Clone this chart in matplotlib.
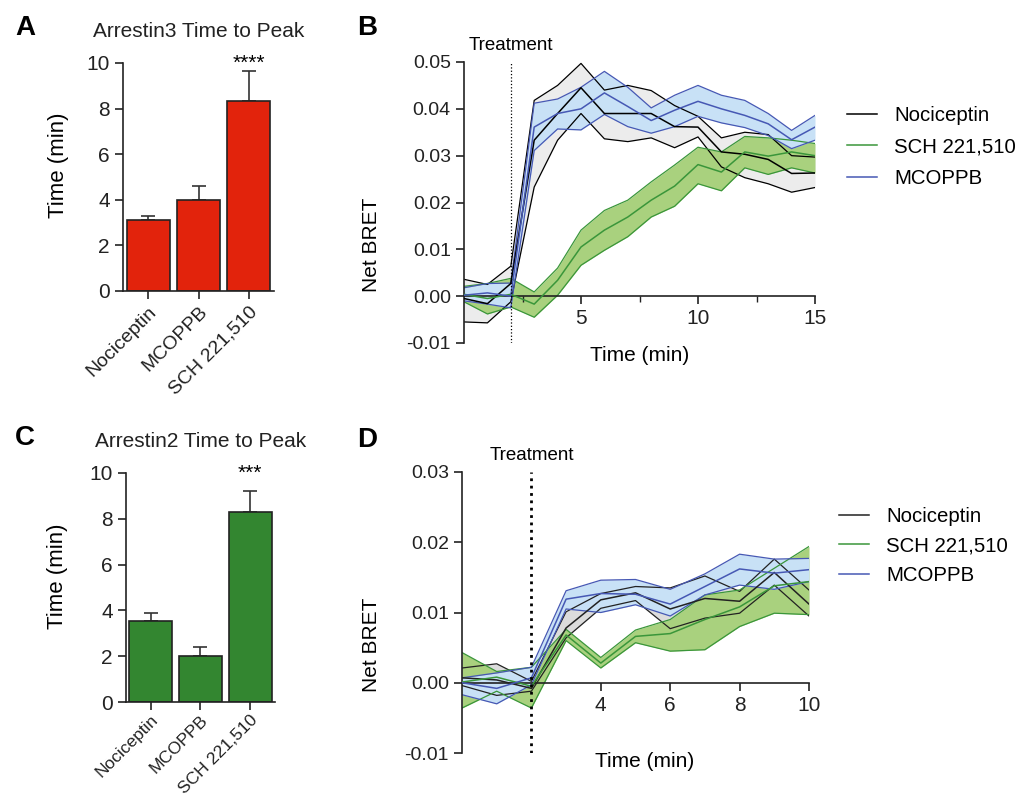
import numpy as np
import matplotlib
matplotlib.use('Agg')
import matplotlib.pyplot as plt
from matplotlib.ticker import FormatStrFormatter

plt.rcParams['font.family'] = ['Liberation Sans', 'DejaVu Sans']
plt.rcParams['axes.unicode_minus'] = False

# bar charts: time to peak (min)
drugs = ['Nociceptin', 'MCOPPB', 'SCH 221,510']
arr3_peak = [3.13, 3.99, 8.33]
arr3_err = [0.17, 0.63, 1.31]
arr2_peak = [3.54, 1.99, 8.30]
arr2_err = [0.36, 0.41, 0.90]

# kinetics arrestin3 (panel B), mean with upper/lower band
t_b = np.arange(0, 16)
noc_b = [-0.0005, -0.0016, 0.0027, 0.0333, 0.0390, 0.0445, 0.0390, 0.0390, 0.0390, 0.0362, 0.0361, 0.0308, 0.0303, 0.0292, 0.0262, 0.0263]
noc_b_hi = [0.0036, 0.0025, 0.0064, 0.0418, 0.0450, 0.0497, 0.0440, 0.0450, 0.0439, 0.0407, 0.0384, 0.0338, 0.0350, 0.0345, 0.0300, 0.0297]
noc_b_lo = [-0.0055, -0.0057, -0.0012, 0.0233, 0.0333, 0.0390, 0.0336, 0.0330, 0.0338, 0.0317, 0.0340, 0.0276, 0.0253, 0.0240, 0.0222, 0.0232]
sch_b = [0.0004, -0.0005, 0.0004, -0.0017, 0.0034, 0.0105, 0.0141, 0.0169, 0.0205, 0.0235, 0.0281, 0.0265, 0.0308, 0.0299, 0.0308, 0.0300]
sch_b_hi = [0.0021, 0.0027, 0.0038, 0.0009, 0.0060, 0.0141, 0.0183, 0.0205, 0.0244, 0.0280, 0.0318, 0.0308, 0.0341, 0.0338, 0.0333, 0.0326]
sch_b_lo = [-0.0012, -0.0038, -0.0023, -0.0045, 0.0002, 0.0066, 0.0098, 0.0127, 0.0169, 0.0192, 0.0240, 0.0225, 0.0274, 0.0260, 0.0274, 0.0263]
mco_b = [0.0002, 0.0007, 0.0000, 0.0361, 0.0390, 0.0400, 0.0434, 0.0405, 0.0375, 0.0397, 0.0416, 0.0400, 0.0386, 0.0368, 0.0334, 0.0361]
mco_b_hi = [0.0018, 0.0027, 0.0028, 0.0412, 0.0421, 0.0446, 0.0480, 0.0446, 0.0402, 0.0429, 0.0450, 0.0429, 0.0418, 0.0390, 0.0354, 0.0386]
mco_b_lo = [-0.0010, -0.0017, -0.0025, 0.0311, 0.0357, 0.0355, 0.0388, 0.0362, 0.0348, 0.0362, 0.0384, 0.0370, 0.0360, 0.0343, 0.0315, 0.0333]

# kinetics arrestin2 (panel D)
t_d = np.arange(0, 11)
noc_d = [0.0007, 0.0004, -0.0008, 0.0078, 0.0118, 0.0128, 0.0105, 0.0120, 0.0116, 0.0157, 0.0112]
noc_d_hi = [0.0021, 0.0027, 0.0002, 0.0101, 0.0127, 0.0137, 0.0135, 0.0152, 0.0130, 0.0176, 0.0132]
noc_d_lo = [-0.0004, -0.0018, -0.0012, 0.0064, 0.0106, 0.0117, 0.0077, 0.0092, 0.0099, 0.0139, 0.0095]
sch_d = [0.0001, 0.0008, -0.0005, 0.0068, 0.0028, 0.0066, 0.0070, 0.0090, 0.0108, 0.0138, 0.0144]
sch_d_hi = [0.0043, 0.0016, 0.0022, 0.0076, 0.0036, 0.0075, 0.0090, 0.0125, 0.0132, 0.0163, 0.0194]
sch_d_lo = [-0.0036, -0.0012, -0.0036, 0.0060, 0.0021, 0.0057, 0.0045, 0.0047, 0.0080, 0.0099, 0.0097]
mco_d = [0.0000, -0.0008, 0.0007, 0.0119, 0.0127, 0.0126, 0.0112, 0.0137, 0.0162, 0.0156, 0.0161]
mco_d_hi = [0.0007, 0.0014, 0.0022, 0.0131, 0.0146, 0.0147, 0.0133, 0.0155, 0.0183, 0.0176, 0.0177]
mco_d_lo = [-0.0017, -0.0030, -0.0003, 0.0105, 0.0100, 0.0111, 0.0095, 0.0125, 0.0139, 0.0133, 0.0144]

fig = plt.figure(figsize=(10.17, 8.02), dpi=100)
W, H = 1017., 802.

def px_axes(x0, y0, x1, y1):
    return fig.add_axes([x0/W, 1-y1/H, (x1-x0)/W, (y1-y0)/H])

def bar_panel(ax, vals, errs, color, stars, title, lab_size, lab_pad):
    x = np.arange(len(vals))
    ax.bar(x, vals, width=0.86, color=color, edgecolor='#222222', linewidth=1.2, zorder=2)
    ax.errorbar(x, vals, yerr=[np.zeros(len(errs)), errs], fmt='none', ecolor='#333333',
                elinewidth=1.2, capsize=5, capthick=1.2, zorder=1)
    ax.set_xlim(-0.5, 2.5)
    ax.set_ylim(0, 10)
    ax.set_yticks([0, 2, 4, 6, 8, 10])
    ax.set_xticks(x)
    ax.set_xticklabels(drugs, rotation=45, ha='right', rotation_mode='anchor', fontsize=lab_size)
    ax.tick_params(axis='y', labelsize=15, length=6, width=1.2, colors='#222222')
    ax.tick_params(axis='x', length=6, width=1.2, colors='#222222', pad=lab_pad)
    for s in ['top', 'right']:
        ax.spines[s].set_visible(False)
    for s in ['left', 'bottom']:
        ax.spines[s].set_linewidth(1.2)
        ax.spines[s].set_color('#222222')
    ax.set_ylabel('Time (min)', fontsize=16)
    ax.text(2, 10.0, stars, ha='center', va='center', fontsize=15)
    ax.set_title(title, fontsize=15, pad=19, color='#222222')

def kinetic_panel(ax, t, series, xmax, ylim, yticks, xmajor, xminor, lw_dot):
    for mean, hi, lo, fc, ec, lab in series:
        ax.fill_between(t, lo, hi, color=fc, linewidth=0, zorder=1)
        ax.plot(t, hi, color=ec, linewidth=0.9, zorder=2)
        ax.plot(t, lo, color=ec, linewidth=0.9, zorder=2)
        ax.plot(t, mean, color=ec, linewidth=1.1, zorder=3, label=lab)
    ax.set_xlim(0, xmax)
    ax.set_ylim(*ylim)
    ax.set_yticks(yticks)
    ax.yaxis.set_major_formatter(FormatStrFormatter('%.2f'))
    ax.set_xticks(xmajor)
    ax.set_xticks(xminor, minor=True)
    ax.spines['bottom'].set_position(('data', 0))
    for s in ['top', 'right']:
        ax.spines[s].set_visible(False)
    for s in ['left', 'bottom']:
        ax.spines[s].set_linewidth(1.2)
        ax.spines[s].set_color('#222222')
    ax.tick_params(axis='both', which='major', length=6, width=1.2, colors='#222222')
    ax.tick_params(axis='x', which='minor', length=4, width=1.0, colors='#222222')
    ax.tick_params(axis='y', labelsize=14)
    ax.tick_params(axis='x', labelsize=15)
    ax.axvline(2, color='black', linestyle=':', linewidth=lw_dot, zorder=4)
    ax.annotate('Treatment', xy=(2, 1), xycoords=('data', 'axes fraction'), xytext=(0, 6),
                textcoords='offset points', ha='center', va='bottom', fontsize=13.5)
    ax.set_ylabel('Net BRET', fontsize=15)
    ax.set_xlabel('Time (min)', fontsize=15)

# colours
green_f, green_e = '#a9d17e', '#3a963a'
blue_f, blue_e = '#c8e1f6', '#4658b4'
grey_fb, grey_fd = '#ececec', '#dcdcdc'

# A
axA = px_axes(123, 63, 274, 291)
bar_panel(axA, arr3_peak, arr3_err, '#e2230c', '****', 'Arrestin3 Time to Peak', 14, 3)
axA.yaxis.set_label_coords(-0.36, 0.55)

# C
axC = px_axes(126, 473, 275, 702)
bar_panel(axC, arr2_peak, arr2_err, '#338630', '***', 'Arrestin2 Time to Peak', 12.5, 1.5)
axC.yaxis.set_label_coords(-0.39, 0.55)

# B
axB = px_axes(464, 62, 815, 343)
kinetic_panel(axB, t_b,
              [(noc_b, noc_b_hi, noc_b_lo, grey_fb, 'black', 'Nociceptin'),
               (sch_b, sch_b_hi, sch_b_lo, green_f, green_e, 'SCH 221,510'),
               (mco_b, mco_b_hi, mco_b_lo, blue_f, blue_e, 'MCOPPB')],
              15, (-0.01, 0.05), [-0.01, 0, 0.01, 0.02, 0.03, 0.04, 0.05],
              [5, 10, 15], [2.5, 7.5, 12.5], 0.9)
axB.yaxis.set_label_coords(-0.236, 0.35)
axB.xaxis.set_label_coords(0.5, -0.012)
axB.legend(loc='center left', bbox_to_anchor=(829/W, 1-147/H), bbox_transform=fig.transFigure,
           frameon=False, fontsize=14.7, handlelength=1.45, handletextpad=0.85, labelspacing=0.62)

# D
axD = px_axes(462, 472, 809, 753)
kinetic_panel(axD, t_d,
              [(noc_d, noc_d_hi, noc_d_lo, grey_fd, '#222222', 'Nociceptin'),
               (sch_d, sch_d_hi, sch_d_lo, green_f, green_e, 'SCH 221,510'),
               (mco_d, mco_d_hi, mco_d_lo, blue_f, blue_e, 'MCOPPB')],
              10, (-0.01, 0.03), [-0.01, 0, 0.01, 0.02, 0.03],
              [4, 6, 8, 10], [], 2.0)
axD.yaxis.set_label_coords(-0.233, 0.385)
axD.xaxis.set_label_coords(0.527, 0.005)
axD.legend(loc='center left', bbox_to_anchor=(821/W, 1-546/H), bbox_transform=fig.transFigure,
           frameon=False, fontsize=14.7, handlelength=1.45, handletextpad=0.85, labelspacing=0.5)

# panel letters
for lab, x, y in [('A', 25, 28), ('B', 367, 28), ('C', 25, 438), ('D', 367, 440)]:
    fig.text(x/W, 1-y/H, lab, fontsize=20, fontweight='bold', ha='center', va='center')

plt.savefig('out.png', dpi=100)
